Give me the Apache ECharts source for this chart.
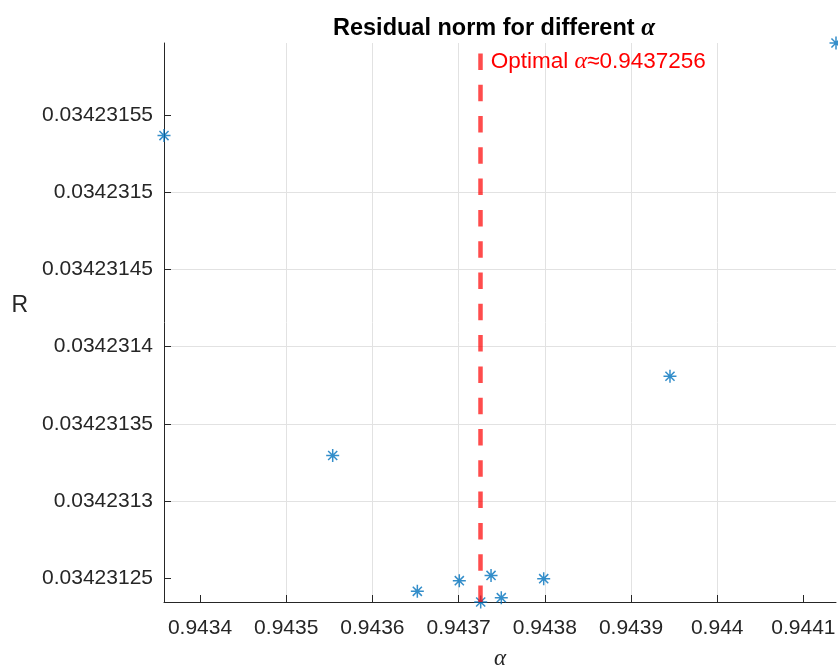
<!DOCTYPE html>
<html>
<head>
<meta charset="utf-8">
<script src="https://cdn.jsdelivr.net/npm/echarts@6/dist/echarts.min.js"></script>
<style>
  html, body { margin: 0; padding: 0; background: #fff; }
  #residual { width: 838px; height: 666px; }
</style>
</head>
<body>
<div id="residual"></div>
<script>
// values
const alphaValues = [0.9433582, 0.9435539, 0.9436521, 0.9437008, 0.9437256,
                     0.9437376, 0.9437495, 0.9437987, 0.9439452, 0.9441378];
const residualValues = [0.0342315366, 0.0342313295, 0.0342312416, 0.0342312485, 0.0342312347,
                        0.0342312519, 0.0342312375, 0.0342312498, 0.0342313808, 0.0342315965];
const optimalAlpha = 0.9437256;
const xTicks = [0.9434, 0.9435, 0.9436, 0.9437, 0.9438, 0.9439, 0.944, 0.9441];
const yTicks = [0.03423125, 0.0342313, 0.03423135, 0.0342314, 0.03423145, 0.0342315, 0.03423155];

const FONT = "'Liberation Sans', Arial, sans-serif";
const MATH = "'Liberation Serif', 'DejaVu Serif', serif";
const axisColor = '#262626';
const gridColor = '#e2e2e2';

const points = alphaValues.map((a, i) => [a, residualValues[i]]);

const myChart = echarts.init(document.getElementById('residual'));
myChart.setOption({
  animation: false,
  title: {
    text: 'Residual norm for different {a|α}',
    left: 328,
    top: 11,
    textStyle: {
      fontFamily: FONT,
      fontSize: 23.5,
      fontWeight: 'bold',
      color: '#000',
      rich: {
        a: { fontFamily: MATH, fontStyle: 'italic', fontWeight: 'bold', fontSize: 25, color: '#000' }
      }
    }
  },
  grid: {
    left: 164,
    right: 2,
    top: 43,
    bottom: 64,
    containLabel: false,
    outerBoundsMode: 'none'
  },
  xAxis: {
    type: 'value',
    min: 'dataMin',
    max: 'dataMax',
    name: 'α',
    nameLocation: 'middle',
    nameGap: 45,
    nameTextStyle: { fontFamily: MATH, fontStyle: 'italic', fontSize: 23, color: axisColor },
    axisLine: { show: true, onZero: false, lineStyle: { color: axisColor, width: 1 } },
    axisTick: { show: true, inside: true, length: 7, customValues: xTicks, lineStyle: { color: axisColor } },
    axisLabel: { customValues: xTicks, margin: 16, fontFamily: FONT, fontSize: 21, color: axisColor },
    splitLine: { show: true, showMinLine: false, showMaxLine: false, lineStyle: { color: gridColor, width: 1 } }
  },
  yAxis: {
    type: 'value',
    min: 'dataMin',
    max: 'dataMax',
    // second blank line lifts the label a little above the axis middle, as in the source
    name: 'R\n ',
    nameLocation: 'middle',
    nameRotate: 0,
    nameGap: 136,
    nameTextStyle: { fontFamily: FONT, fontSize: 23, lineHeight: 33, color: axisColor },
    axisLine: { show: true, onZero: false, lineStyle: { color: axisColor, width: 1 } },
    axisTick: { show: true, inside: true, length: 7, customValues: yTicks, lineStyle: { color: axisColor } },
    axisLabel: { customValues: yTicks, margin: 11, fontFamily: FONT, fontSize: 21, color: axisColor },
    splitLine: { show: true, showMinLine: false, showMaxLine: false, lineStyle: { color: gridColor, width: 1 } }
  },
  series: [
    {
      type: 'scatter',
      data: points,
      symbol: 'path://M0,-10L0,10M-10,0L10,0M-7,-7L7,7M-7,7L7,-7',
      symbolSize: 13,
      clip: false,
      itemStyle: { color: 'transparent', borderColor: '#0072BD', borderWidth: 1.5 },
      emphasis: { disabled: true },
      markLine: {
        silent: true,
        symbol: 'none',
        data: [
          [
            { coord: [optimalAlpha, 'min'] },
            { coord: [optimalAlpha, 'max'] }
          ]
        ],
        lineStyle: { color: 'rgba(255,0,0,0.7)', width: 4.5, type: [16.5, 14.8] },
        label: {
          show: true,
          position: 'end',
          distance: -19,
          align: 'left',
          verticalAlign: 'middle',
          padding: [0, 0, 0, 10],
          formatter: '{t|Optimal }{a|α}{t|≈' + optimalAlpha + '}',
          rich: {
            t: { fontFamily: FONT, fontSize: 22.5, color: '#ff0000' },
            a: { fontFamily: MATH, fontStyle: 'italic', fontSize: 24, color: '#ff0000' }
          }
        }
      }
    }
  ]
});
</script>
</body>
</html>
